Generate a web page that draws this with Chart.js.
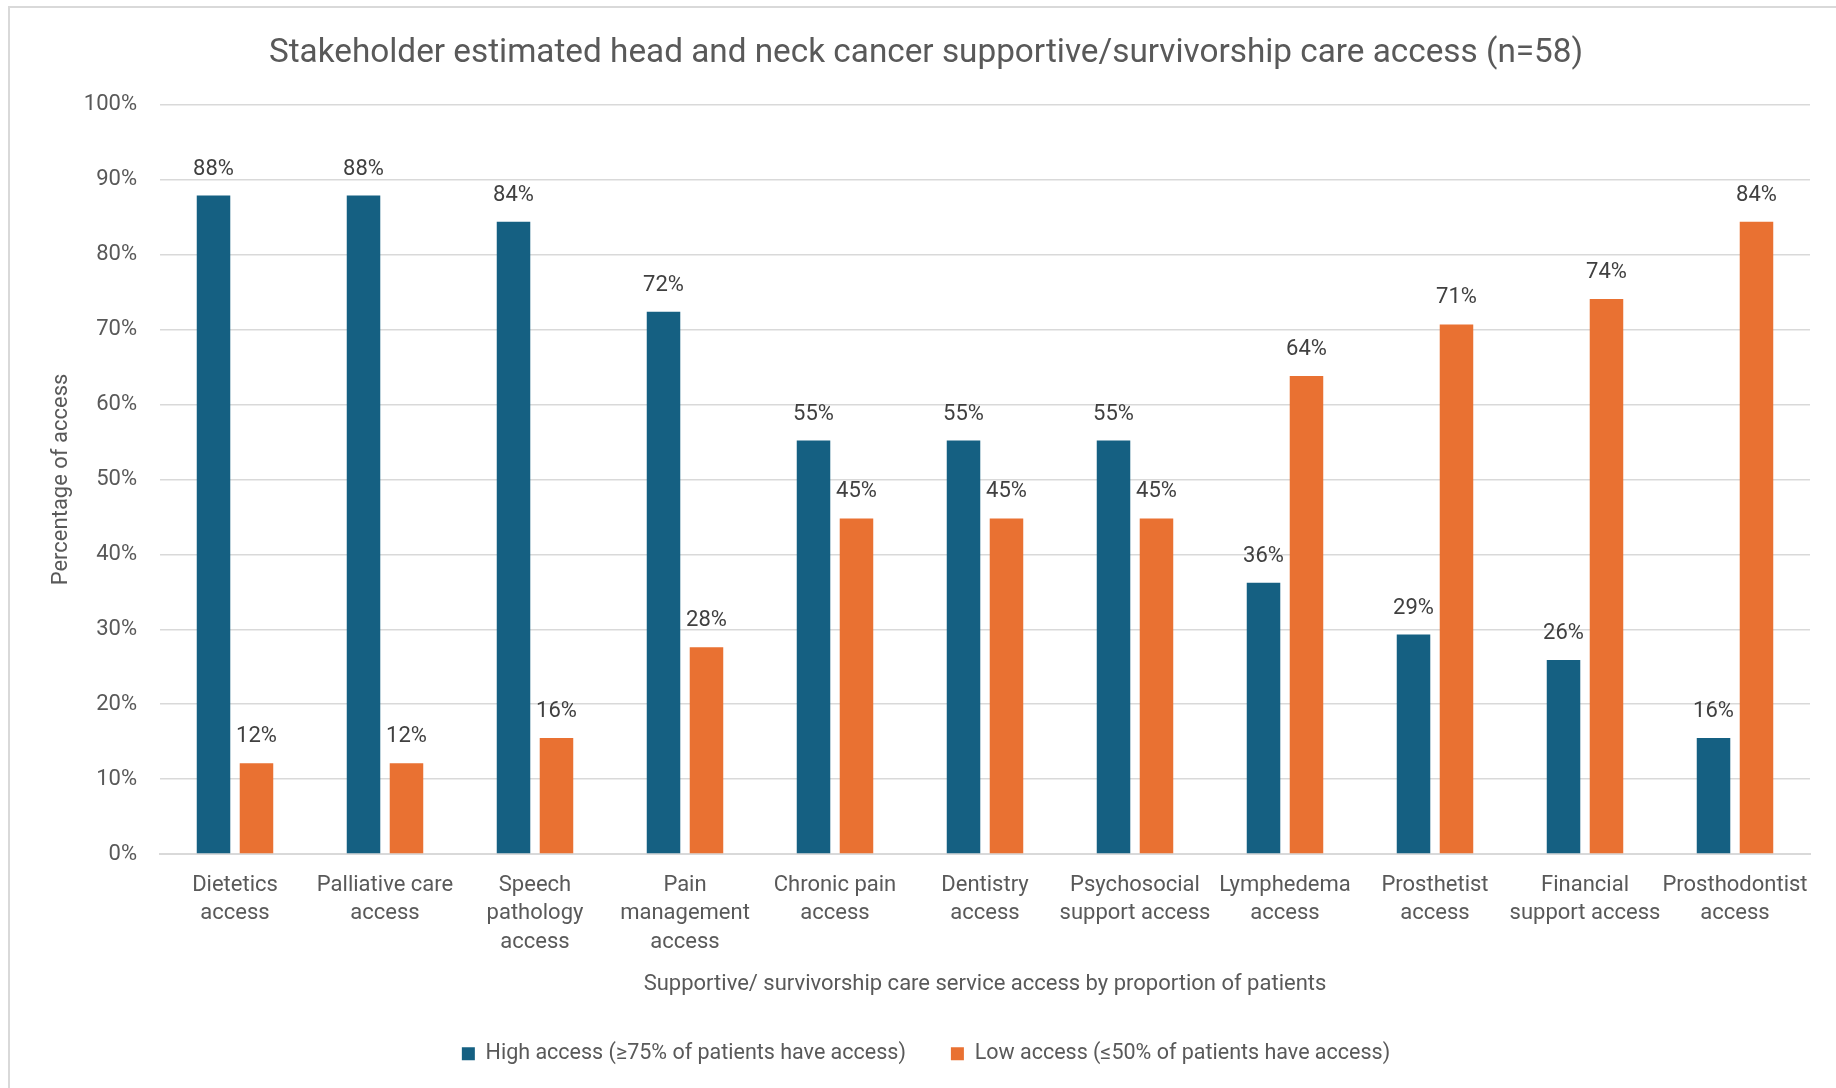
<!DOCTYPE html>
<html><head><meta charset="utf-8">
<script src="https://cdn.jsdelivr.net/npm/chart.js@4.4.1/dist/chart.umd.min.js"></script>
<style>html,body{margin:0;padding:0;background:#fff;}#wrap{position:relative;width:1836px;height:1088px;}</style>
</head><body><div id="wrap"><canvas id="c" width="1836" height="1088"></canvas></div>
<script>
const categories = [["Dietetics","access"],["Palliative care","access"],["Speech","pathology","access"],["Pain","management","access"],["Chronic pain","access"],["Dentistry","access"],["Psychosocial","support access"],["Lymphedema","access"],["Prosthetist","access"],["Financial","support access"],["Prosthodontist","access"]];
const highAccess = [87.9, 87.9, 84.4, 72.4, 55.2, 55.2, 55.2, 36.2, 29.3, 25.9, 15.5];
const lowAccess  = [12.1, 12.1, 15.5, 27.6, 44.8, 44.8, 44.8, 63.8, 70.7, 74.1, 84.4];
const seriesNames = ["High access (\u226575% of patients have access)", "Low access (\u226450% of patients have access)"];
const yTickValues = [0, 10, 20, 30, 40, 50, 60, 70, 80, 90, 100];
const chartTitle = "Stakeholder estimated head and neck cancer supportive/survivorship care access (n=58)";
const xTitle = "Supportive/ survivorship care service access by proportion of patients";
const yTitle = "Percentage of access";

const SANS = "Roboto, 'Open Sans', sans-serif";
const TXT = '#595959';

const borderPlugin = {
  id: 'frame',
  beforeDraw(chart) {
    const ctx = chart.ctx;
    ctx.save();
    ctx.fillStyle = '#ffffff';
    ctx.fillRect(0, 0, chart.width, chart.height);
    ctx.strokeStyle = '#d9d9d9';
    ctx.lineWidth = 2;
    ctx.beginPath();
    ctx.moveTo(9, chart.height);
    ctx.lineTo(9, 7);
    ctx.lineTo(chart.width, 7);
    ctx.stroke();
    ctx.restore();
  }
};
const labelPlugin = {
  id: 'barLabels',
  afterDatasetsDraw(chart) {
    const ctx = chart.ctx;
    ctx.save();
    ctx.font = "22px " + SANS;
    ctx.fillStyle = '#404040';
    ctx.textAlign = 'center';
    ctx.textBaseline = 'middle';
    chart.data.datasets.forEach((ds, di) => {
      const meta = chart.getDatasetMeta(di);
      meta.data.forEach((bar, i) => {
        ctx.fillText(Math.round(ds.data[i]) + '%', bar.x, bar.y - 26.5);
      });
    });
    ctx.restore();
  }
};

const chart = new Chart(document.getElementById('c'), {
  type: 'bar',
  data: {
    labels: categories,
    datasets: [
      { label: seriesNames[0], data: highAccess, backgroundColor: '#156082', borderWidth: 0, categoryPercentage: 0.573, barPercentage: 0.78 },
      { label: seriesNames[1], data: lowAccess, backgroundColor: '#E97132', borderWidth: 0, categoryPercentage: 0.573, barPercentage: 0.78 }
    ]
  },
  options: {
    responsive: false,
    animation: false,
    devicePixelRatio: 1,
    layout: { padding: { left: 42, right: 26, top: 0, bottom: 13.5 } },
    plugins: {
      title: { display: true, text: chartTitle, color: TXT, font: { family: SANS, size: 33.3, weight: 'normal' }, padding: { top: 33.5, bottom: 31.5 } },
      legend: { position: 'bottom', labels: { boxWidth: 13, boxHeight: 13, color: TXT, font: { family: SANS, size: 21.5 }, padding: 45 } },
      tooltip: { enabled: false }
    },
    scales: {
      x: {
        afterFit(s) { s.height = 144; },
        grid: { display: false, drawTicks: false },
        border: { display: true, color: '#d9d9d9', width: 2 },
        ticks: { color: TXT, font: { family: SANS, size: 22, lineHeight: 1.3 }, padding: 17, maxRotation: 0, autoSkip: false },
        title: { display: true, text: xTitle, color: TXT, font: { family: SANS, size: 22 }, padding: { top: 0, bottom: 0 } }
      },
      y: {
        min: 0, max: 100,
        afterBuildTicks(s) { s.ticks = yTickValues.map(v => ({ value: v })); },
        afterFit(s) { s.width = 118; },
        ticks: { color: TXT, font: { family: SANS, size: 22 }, padding: 23, callback: v => v + '%' },
        grid: { color: '#d9d9d9', lineWidth: 1.5, drawTicks: false },
        border: { display: false },
        title: { display: true, text: yTitle, color: TXT, font: { family: SANS, size: 22 }, padding: { top: 6, bottom: 0 } }
      }
    }
  },
  plugins: [borderPlugin, labelPlugin]
});
</script></body></html>
